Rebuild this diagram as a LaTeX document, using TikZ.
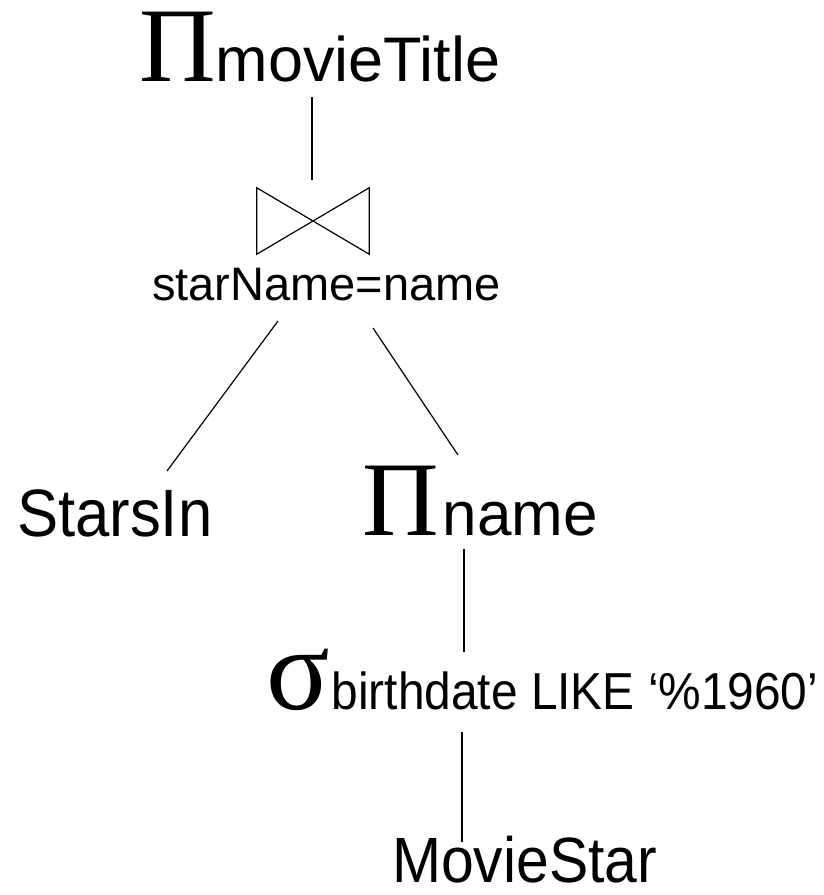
\documentclass[tikz,border=0pt]{standalone}
\usepackage{fontspec}
\setmainfont{Liberation Sans}
\newfontfamily\grk{Liberation Serif}
\newfontfamily\narrow[FakeStretch=0.92,Ligatures=TeX]{Liberation Sans}
\begin{document}
\begin{tikzpicture}[x=1pt,y=-1pt,
  lbl/.style={inner sep=0pt,outer sep=0pt,anchor=base west},
  big/.style={font=\fontsize{63}{63}\selectfont},
  mid/.style={font=\fontsize{47}{47}\selectfont},
  edge/.style={line width=1.2pt}]
\useasboundingbox (0,0) rectangle (823,895);
% nodes
\node[lbl,big] (pt) at (139,81) {{\grk\fontsize{106}{106}\selectfont Π}movieTitle};
\node[inner sep=0pt,minimum width=112pt,minimum height=66pt] (join) at (313,221) {};
\draw[line width=1.2pt,line join=miter] (join.north west) -- (join.south east) -- (join.north east) -- (join.south west) -- cycle;
\node[lbl,mid] (cond) at (152,300) {starName=name};
\node[lbl,font=\narrow\fontsize{67}{67}\selectfont] (stars) at (17,536) {StarsIn};
\node[lbl,font=\fontsize{62}{62}\selectfont] (pn) at (362,535) {{\grk\fontsize{106}{106}\selectfont Π}\kern4pt name};
\node[lbl,font=\narrow\fontsize{52}{52}\selectfont] (sig) at (266,709) {{\grk\fontsize{118}{118}\selectfont σ}\kern2pt birthdate LIKE ‘\%1960’};
\node[lbl,font=\narrow\fontsize{64}{64}\selectfont] (ms) at (392,882) {MovieStar};
% connector end points
\coordinate (a1) at (312,97);  \coordinate (a2) at (312,180);
\coordinate (b1) at (278,321); \coordinate (b2) at (167,471);
\coordinate (c1) at (373,328); \coordinate (c2) at (458,455);
\coordinate (d1) at (464,549); \coordinate (d2) at (464,652);
\coordinate (e1) at (462,732); \coordinate (e2) at (462,842);
\draw[edge] (a1) -- (a2);
\draw[edge] (b1) -- (b2);
\draw[edge] (c1) -- (c2);
\draw[edge] (d1) -- (d2);
\draw[edge] (e1) -- (e2);
\end{tikzpicture}
\end{document}
